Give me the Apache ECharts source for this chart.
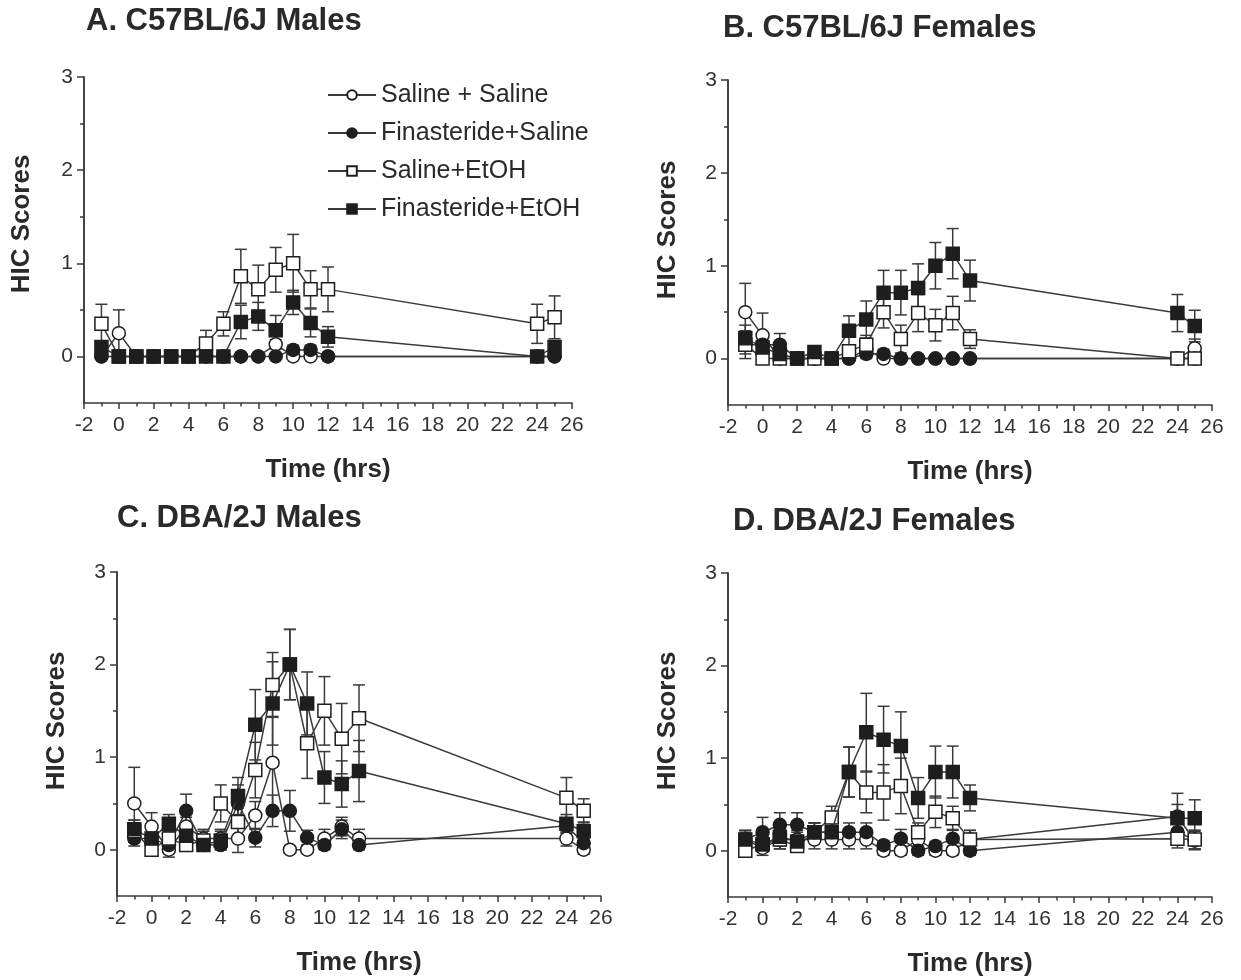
<!DOCTYPE html>
<html>
<head>
<meta charset="utf-8">
<script src="https://cdn.jsdelivr.net/npm/echarts@6/dist/echarts.min.js"></script>
<style>
html,body{margin:0;padding:0;background:#fff;}
#chart{width:1241px;height:980px;}
</style>
</head>
<body>
<div id="chart"></div>
<script>
// ---- data ----
const times = [-1, 0, 1, 2, 3, 4, 5, 6, 7, 8, 9, 10, 11, 12, 24, 25];
const groups = ['Saline + Saline', 'Finasteride+Saline', 'Saline+EtOH', 'Finasteride+EtOH'];
const panelTitles = ['A. C57BL/6J Males', 'B. C57BL/6J Females', 'C. DBA/2J Males', 'D. DBA/2J Females'];
const yTickLabels = [0, 1, 2, 3];
const yHalfTicks = [0.5, 1.5, 2.5];

// Panel A: C57BL/6J Males
const A_SS     = [0, 0.25, 0, 0, 0, 0, 0, 0, 0, 0, 0.13, 0, 0, 0, 0, 0];
const A_SS_err = [0, 0.25, 0, 0, 0, 0, 0, 0, 0, 0, 0.05, 0, 0, 0, 0, 0];
const A_FS     = [0, 0, 0, 0, 0, 0, 0, 0, 0, 0, 0, 0.07, 0.07, 0, 0, 0];
const A_FS_err = [0, 0, 0, 0, 0, 0, 0, 0, 0, 0, 0, 0.05, 0.05, 0, 0, 0];
const A_SE     = [0.35, 0, 0, 0, 0, 0, 0.14, 0.35, 0.86, 0.72, 0.93, 1.0, 0.72, 0.72, 0.35, 0.42];
const A_SE_err = [0.21, 0, 0, 0, 0, 0, 0.14, 0.13, 0.29, 0.26, 0.24, 0.31, 0.2, 0.24, 0.21, 0.23];
const A_FE     = [0.1, 0, 0, 0, 0, 0, 0, 0, 0.37, 0.43, 0.28, 0.58, 0.36, 0.21, 0, 0.1];
const A_FE_err = [0.06, 0, 0, 0, 0, 0, 0, 0, 0.18, 0.15, 0.16, 0.13, 0.15, 0.11, 0, 0.05];

// Panel B: C57BL/6J Females
const B_SS     = [0.5, 0.25, 0, 0, 0, 0, 0, 0.1, 0, 0, 0, 0, 0, 0, 0, 0.11];
const B_SS_err = [0.31, 0.24, 0, 0, 0, 0, 0, 0.05, 0, 0, 0, 0, 0, 0, 0, 0.1];
const B_FS     = [0.15, 0.15, 0.15, 0, 0, 0, 0, 0.05, 0.05, 0, 0, 0, 0, 0, 0, 0];
const B_FS_err = [0.1, 0.1, 0.12, 0, 0, 0, 0, 0.05, 0.05, 0, 0, 0, 0, 0, 0, 0];
const B_SE     = [0.15, 0, 0, 0, 0, 0, 0.08, 0.15, 0.5, 0.21, 0.49, 0.36, 0.49, 0.21, 0, 0];
const B_SE_err = [0.15, 0, 0, 0, 0, 0, 0.05, 0.1, 0.17, 0.15, 0.2, 0.17, 0.18, 0.1, 0, 0];
const B_FE     = [0.22, 0.12, 0.05, 0, 0.07, 0, 0.3, 0.42, 0.71, 0.71, 0.76, 1.0, 1.13, 0.84, 0.49, 0.35];
const B_FE_err = [0.14, 0.08, 0.05, 0, 0.04, 0, 0.16, 0.2, 0.24, 0.24, 0.26, 0.25, 0.27, 0.22, 0.2, 0.17];

// Panel C: DBA/2J Males
const C_SS     = [0.5, 0.25, 0, 0.25, 0.12, 0.12, 0.12, 0.37, 0.94, 0, 0, 0.12, 0.25, 0.12, 0.12, 0];
const C_SS_err = [0.39, 0.15, 0.08, 0.1, 0.1, 0.1, 0.15, 0.15, 0.5, 0, 0, 0.1, 0.1, 0.1, 0.08, 0.05];
const C_FS     = [0.12, 0.12, 0.05, 0.42, 0.05, 0.05, 0.5, 0.13, 0.42, 0.42, 0.13, 0.05, 0.22, 0.05, 0.26, 0.07];
const C_FS_err = [0.08, 0.08, 0.05, 0.18, 0.05, 0.05, 0.2, 0.1, 0.17, 0.22, 0.08, 0.05, 0.1, 0.05, 0.08, 0.06];
const C_SE     = [0.2, 0, 0.12, 0.05, 0.1, 0.5, 0.3, 0.86, 1.78, 2.0, 1.15, 1.5, 1.2, 1.42, 0.56, 0.42];
const C_SE_err = [0.12, 0.05, 0.08, 0.05, 0.1, 0.2, 0.15, 0.3, 0.35, 0.38, 0.38, 0.37, 0.38, 0.36, 0.22, 0.13];
const C_FE     = [0.22, 0.12, 0.28, 0.15, 0.05, 0.1, 0.58, 1.35, 1.58, 2.0, 1.58, 0.78, 0.71, 0.85, 0.28, 0.2];
const C_FE_err = [0.1, 0.1, 0.1, 0.1, 0.05, 0.1, 0.2, 0.38, 0.45, 0.38, 0.34, 0.28, 0.25, 0.33, 0.1, 0.1];

// Panel D: DBA/2J Females
const D_SS     = [0.12, 0.03, 0.12, 0.12, 0.12, 0.12, 0.12, 0.12, 0, 0, 0.12, 0, 0, 0.12, 0.37, 0.11];
const D_SS_err = [0.1, 0.08, 0.1, 0.1, 0.1, 0.1, 0.1, 0.1, 0.05, 0.05, 0.1, 0.05, 0.05, 0.1, 0.25, 0.1];
const D_FS     = [0.12, 0.2, 0.28, 0.28, 0.2, 0.2, 0.2, 0.2, 0.06, 0.13, 0, 0.05, 0.13, 0, 0.2, 0.12];
const D_FS_err = [0.1, 0.16, 0.13, 0.13, 0.1, 0.1, 0.1, 0.1, 0.05, 0.1, 0.05, 0.05, 0.1, 0.05, 0.1, 0.1];
const D_SE     = [0, 0.07, 0.12, 0.05, 0.2, 0.36, 0.85, 0.63, 0.63, 0.7, 0.2, 0.42, 0.35, 0.12, 0.13, 0.12];
const D_SE_err = [0.05, 0.08, 0.1, 0.05, 0.1, 0.12, 0.27, 0.22, 0.3, 0.3, 0.1, 0.17, 0.13, 0.1, 0.1, 0.1];
const D_FE     = [0.12, 0.07, 0.15, 0.1, 0.2, 0.2, 0.85, 1.28, 1.2, 1.13, 0.57, 0.85, 0.85, 0.57, 0.35, 0.35];
const D_FE_err = [0.08, 0.08, 0.1, 0.1, 0.1, 0.12, 0.27, 0.42, 0.36, 0.37, 0.22, 0.28, 0.28, 0.14, 0.15, 0.2];

// ---- assembly ----
const panelMeans = [[A_SS, A_FS, A_SE, A_FE], [B_SS, B_FS, B_SE, B_FE], [C_SS, C_FS, C_SE, C_FE], [D_SS, D_FS, D_SE, D_FE]];
const panelErrs = [[A_SS_err, A_FS_err, A_SE_err, A_FE_err], [B_SS_err, B_FS_err, B_SE_err, B_FE_err], [C_SS_err, C_FS_err, C_SE_err, C_FE_err], [D_SS_err, D_FS_err, D_SE_err, D_FE_err]];

const FONT = '"Liberation Sans", Arial, sans-serif';
const INK = '#2a2a2a';
const LINE = '#3a3a3a';

const grids = [
  {left: 84, top: 77, width: 488, height: 326},
  {left: 728, top: 80, width: 484, height: 325},
  {left: 117, top: 572, width: 484, height: 324},
  {left: 728, top: 573, width: 484, height: 324}
];
const titlePos = [[86, 21], [723, 28], [117, 518], [733, 521]];
const yNamePos = [[22, 224], [668, 230], [57, 721], [668, 721]];

const markerStyles = [
  {symbol: 'circle', fill: '#ffffff', size: 13},
  {symbol: 'circle', fill: '#1e1e1e', size: 13},
  {symbol: 'rect', fill: '#ffffff', size: 13},
  {symbol: 'rect', fill: '#1e1e1e', size: 13}
];

const xAxes = [], yAxes = [], series = [], graphics = [];
grids.forEach((g, p) => {
  xAxes.push({
    gridIndex: p, type: 'value', min: -2, max: 26, interval: 2, position: 'bottom',
    axisLine: {show: true, onZero: false, lineStyle: {color: LINE, width: 1.5}},
    axisTick: {show: true, length: 6, lineStyle: {color: LINE, width: 1.5}},
    minorTick: {show: true, splitNumber: 2, length: 3.5, lineStyle: {color: LINE, width: 1.5}},
    axisLabel: {fontSize: 21, color: '#333', fontFamily: FONT, margin: 12},
    splitLine: {show: false}, minorSplitLine: {show: false},
    name: 'Time (hrs)', nameLocation: 'middle', nameGap: 54,
    nameTextStyle: {fontSize: 26, fontWeight: 'bold', color: INK, fontFamily: FONT}
  });
  yAxes.push({
    gridIndex: p, type: 'value', min: -0.5, max: 3, position: 'left', offset: 0,
    axisLine: {show: true, onZero: false, lineStyle: {color: LINE, width: 1.5}},
    axisTick: {show: true, length: 7, customValues: yTickLabels, lineStyle: {color: LINE, width: 1.5}},
    axisLabel: {customValues: yTickLabels, fontSize: 21, color: '#333', fontFamily: FONT, margin: 11},
    splitLine: {show: false}
  });
  yAxes.push({
    gridIndex: p, type: 'value', min: -0.5, max: 3, position: 'left', offset: 0,
    axisLine: {show: true, onZero: false, lineStyle: {color: LINE, width: 1.5}},
    axisTick: {show: true, length: 4, customValues: yHalfTicks, lineStyle: {color: LINE, width: 1.5}},
    axisLabel: {show: false},
    splitLine: {show: false}
  });

  groups.forEach((name, k) => {
    const m = panelMeans[p][k], e = panelErrs[p][k];
    series.push({
      type: 'custom', name: name + ' SEM', xAxisIndex: p, yAxisIndex: 2 * p,
      coordinateSystem: 'cartesian2d', z: 1, silent: true,
      encode: {x: 0, y: 1},
      data: times.map((t, i) => [t, m[i], e[i]]),
      renderItem: function (params, api) {
        const x = api.value(0), y = api.value(1), err = api.value(2);
        if (!err) return null;
        const top = api.coord([x, y + err]);
        const bot = api.coord([x, y - err]);
        const hw = 6;
        const st = {stroke: LINE, lineWidth: 1.5};
        return {type: 'group', children: [
          {type: 'line', shape: {x1: top[0], y1: top[1], x2: bot[0], y2: bot[1]}, style: st},
          {type: 'line', shape: {x1: top[0] - hw, y1: top[1], x2: top[0] + hw, y2: top[1]}, style: st},
          {type: 'line', shape: {x1: bot[0] - hw, y1: bot[1], x2: bot[0] + hw, y2: bot[1]}, style: st}
        ]};
      }
    });
    const ms = markerStyles[k];
    series.push({
      type: 'line', name: name, xAxisIndex: p, yAxisIndex: 2 * p, z: 3 + k,
      data: times.map((t, i) => [t, m[i]]),
      symbol: ms.symbol, symbolSize: ms.size, showAllSymbol: true,
      lineStyle: {color: LINE, width: 1.5},
      itemStyle: {color: ms.fill, borderColor: '#1e1e1e', borderWidth: 1.5},
      emphasis: {disabled: true}, silent: true
    });
  });

  graphics.push({
    type: 'text', x: titlePos[p][0], y: titlePos[p][1],
    style: {text: panelTitles[p], font: 'bold 31px ' + FONT, fill: INK, align: 'left', verticalAlign: 'middle'}
  });
  graphics.push({
    type: 'text', x: yNamePos[p][0], y: yNamePos[p][1], rotation: Math.PI / 2,
    style: {text: 'HIC Scores', font: 'bold 26px ' + FONT, fill: INK, align: 'center', verticalAlign: 'middle'}
  });
});

const chart = echarts.init(document.getElementById('chart'), null, {renderer: 'canvas'});
chart.setOption({
  animation: false,
  backgroundColor: '#ffffff',
  grid: grids,
  xAxis: xAxes,
  yAxis: yAxes,
  legend: {
    data: groups, orient: 'vertical', left: 322, top: 77,
    itemWidth: 48, itemHeight: 12, itemGap: 12,
    selectedMode: false,
    textStyle: {fontSize: 25, color: INK, fontFamily: FONT, lineHeight: 26}
  },
  graphic: graphics,
  series: series
});
</script>
</body>
</html>
